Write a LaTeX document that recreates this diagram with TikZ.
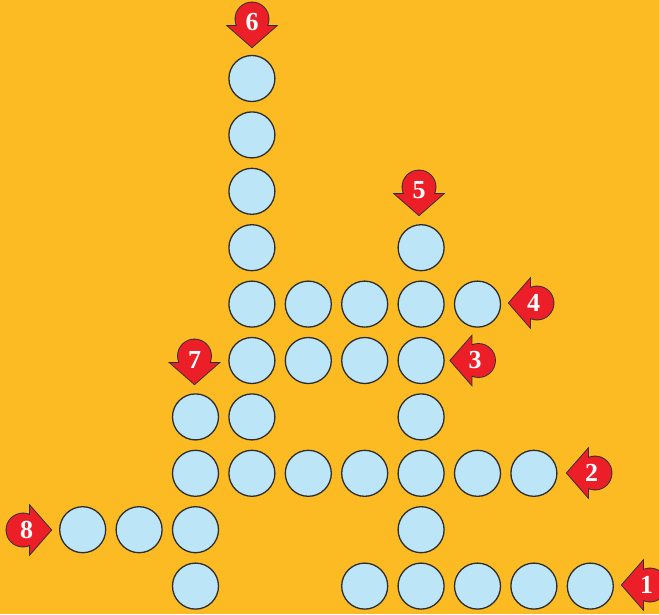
\documentclass[tikz,border=0pt]{standalone}
\usepackage{fontspec}
\setmainfont{Liberation Serif}
\definecolor{bgorange}{RGB}{252,187,34}
\definecolor{cellblue}{RGB}{189,229,248}
\definecolor{markred}{RGB}{236,30,40}
\definecolor{edgegray}{RGB}{45,45,45}
\newcommand\markerarrow[6]{% name, cx, cy, dx, dy, number
  \pgfmathsetmacro\mxa{#2+7*(#4)+24*(#5)}%
  \pgfmathsetmacro\mya{#3+7*(#5)-24*(#4)}%
  \pgfmathsetmacro\mxb{#2+7*(#4)-24*(#5)}%
  \pgfmathsetmacro\myb{#3+7*(#5)+24*(#4)}%
  \pgfmathsetmacro\mxt{#2+28*(#4)}%
  \pgfmathsetmacro\myt{#3+28*(#5)}%
  \pgfmathsetmacro\mxn{#2+3.5*(#4)}%
  \pgfmathsetmacro\myn{#3+3.5*(#5)}%
  \draw[markoutline] (#2,#3) circle (16.5) (\mxa,\mya) -- (\mxt,\myt) -- (\mxb,\myb) -- cycle;
  \fill[markred] (#2,#3) circle (16.5) (\mxa,\mya) -- (\mxt,\myt) -- (\mxb,\myb) -- cycle;
  \node[num] (#1) at (\mxn,\myn) {#6};
}
\begin{document}
\begin{tikzpicture}[x=1pt,y=-1pt,
  cell/.style={circle, draw=edgegray, fill=cellblue, line width=1.3pt, minimum size=46pt, inner sep=0pt},
  markoutline/.style={draw=edgegray, line width=1.8pt, line join=miter},
  num/.style={text=white, font=\bfseries\fontsize{26}{26}\selectfont, inner sep=0pt}]
\clip (0,0) rectangle (659,614);
\fill[bgorange] (0,0) rectangle (659,614);
\foreach \c/\r in {3/0,3/1,3/2,3/3,6/3,
  3/4,4/4,5/4,6/4,7/4,
  3/5,4/5,5/5,6/5,
  2/6,3/6,6/6,
  2/7,3/7,4/7,5/7,6/7,7/7,8/7,
  0/8,1/8,2/8,6/8,
  2/9,5/9,6/9,7/9,8/9,9/9}
  \node[cell] (c\c-\r) at ({82.7+56.4*\c},{78.5+56.4*\r}) {};
\markerarrow{m1}{650}{585}{-1}{0}{1}
\markerarrow{m2}{595}{473}{-1}{0}{2}
\markerarrow{m3}{478.5}{360.5}{-1}{0}{3}
\markerarrow{m4}{537}{303}{-1}{0}{4}
\markerarrow{m5}{419}{187}{0}{1}{5}
\markerarrow{m6}{252}{19}{0}{1}{6}
\markerarrow{m7}{194.5}{356}{0}{1}{7}
\markerarrow{m8}{23}{530}{1}{0}{8}
\end{tikzpicture}
\end{document}
